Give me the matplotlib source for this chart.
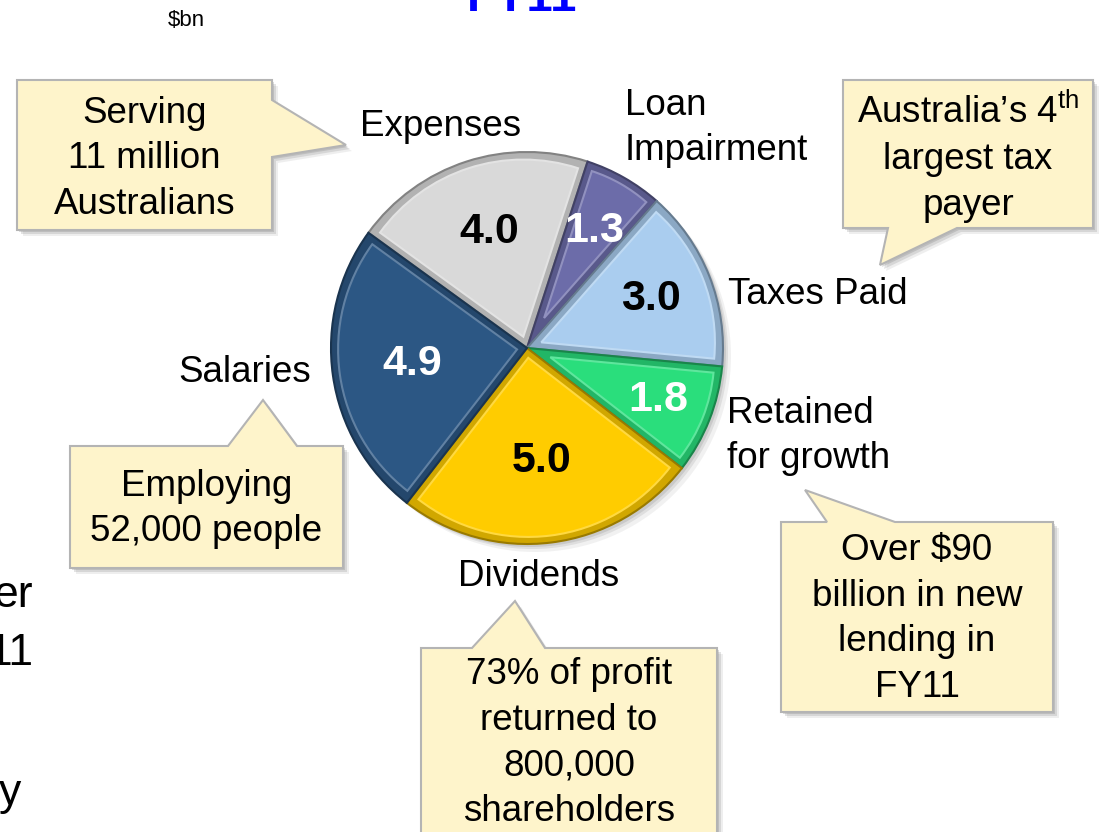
import numpy as np
import matplotlib
matplotlib.use('Agg')
import matplotlib.pyplot as plt
from matplotlib.patches import Polygon, Circle, Wedge
from matplotlib.colors import to_rgb

plt.rcParams['font.family'] = ['Liberation Sans', 'DejaVu Sans']
plt.rcParams['mathtext.fontset'] = 'custom'
plt.rcParams['mathtext.rm'] = 'Liberation Sans'

W, H = 1105, 832

# data, clockwise from the top of the pie ($bn)
categories = ['Expenses', 'Loan\nImpairment', 'Taxes Paid', 'Retained\nfor growth', 'Dividends', 'Salaries']
values = [4.0, 1.3, 3.0, 1.8, 5.0, 4.9]
slice_colors = ['#d9d9d9', '#6c6ca9', '#aacdef', '#2ade7c', '#ffcc00', '#2c5784']
value_colors = ['black', 'white', 'black', 'white', 'black', 'white']

callout_texts = [
    'Serving\n11 million\nAustralians',
    'Australia\u2019s 4$^{\\mathrm{th}}$\nlargest tax\npayer',
    'Employing\n52,000 people',
    '73% of profit\nreturned to\n800,000\nshareholders',
    'Over \\$90\nbillion in new\nlending in\nFY11',
]

# layout (pixels, origin top left)
pie_cx, pie_cy, pie_r = 527, 348, 196
label_pos = [(441, 127, 'center'), (625, 128, 'left'), (728, 295, 'left'),
             (727, 436, 'left'), (539, 576, 'center'), (245, 372, 'center')]
value_dist = [0.62, 0.69, 0.68, 0.72, 0.58, 0.59]
txt_size = 26.5

# box x0, y0, x1, y1, side, base a, base b, tip, text centre y
callout_boxes = [
    (17, 80, 272, 230, 'right', 100, 157, (346, 145), 159),
    (843, 80, 1093, 228, 'bottom', 888, 957, (880, 265), 158),
    (70, 446, 343, 568, 'top', 228, 297, (263, 400), 509),
    (421, 648, 717, 860, 'top', 472, 545, (515, 601), 743),
    (781, 522, 1053, 712, 'top', 827, 895, (805, 490), 619),
]


def Y(py):
    return H - py


def shade(c, f=0.7):
    r, g, b = to_rgb(c)
    if f > 1:
        return tuple(x + (1 - x) * (f - 1) for x in (r, g, b))
    return (r * f, g * f, b * f)


def callout_points(x0, y0, x1, y1, side, a, b, tip):
    pts = [(x0, y0)]
    if side == 'top':
        pts += [(a, y0), tip, (b, y0)]
    pts.append((x1, y0))
    if side == 'right':
        pts += [(x1, a), tip, (x1, b)]
    pts.append((x1, y1))
    if side == 'bottom':
        pts += [(b, y1), tip, (a, y1)]
    pts.append((x0, y1))
    return [(px, Y(py)) for px, py in pts]


fig = plt.figure(figsize=(W / 100, H / 100), dpi=100)
ax = fig.add_axes([0, 0, 1, 1])

# pie shadow
for off, al in [(8, 0.08), (5, 0.12), (3, 0.15)]:
    ax.add_patch(Circle((pie_cx + off, Y(pie_cy) - off), pie_r, color='#555555', alpha=al, lw=0, zorder=1))

wedges, _ = ax.pie(values, colors=[shade(c, 0.82) for c in slice_colors], startangle=144,
                   counterclock=False, radius=pie_r, center=(pie_cx, Y(pie_cy)), frame=True,
                   wedgeprops=dict(linewidth=1.5, zorder=2))
for w, c in zip(wedges, slice_colors):
    w.set_edgecolor(shade(c, 0.6))
    w.set_zorder(2)

# bevel: inset face of each slice
inset = 7
for w, c in zip(wedges, slice_colors):
    half = np.deg2rad(abs(w.theta2 - w.theta1) / 2)
    mid = np.deg2rad((w.theta1 + w.theta2) / 2)
    s = inset / np.sin(half)
    cx = pie_cx + s * np.cos(mid)
    cy = Y(pie_cy) + s * np.sin(mid)
    ax.add_patch(Wedge((cx, cy), pie_r - inset - s, w.theta1, w.theta2,
                       facecolor=c, edgecolor=shade(c, 1.25), lw=1.5, zorder=3))

for w, v, tc, d in zip(wedges, values, value_colors, value_dist):
    mid = np.deg2rad((w.theta1 + w.theta2) / 2)
    ax.text(pie_cx + d * pie_r * np.cos(mid), Y(pie_cy) + d * pie_r * np.sin(mid), '%.1f' % v,
            ha='center', va='center', fontsize=31, fontweight='bold', color=tc, zorder=5)

for name, (lx, ly, ha) in zip(categories, label_pos):
    ax.text(lx, Y(ly), name, ha=ha, va='center', fontsize=txt_size, linespacing=1.4, color='black')

# callouts
for (x0, y0, x1, y1, side, a, b, tip, ty), txt in zip(callout_boxes, callout_texts):
    pts = callout_points(x0, y0, x1, y1, side, a, b, tip)
    for off, al in [(6, 0.12), (4, 0.2), (2, 0.25)]:
        ax.add_patch(Polygon([(px + off, py - off) for px, py in pts], closed=True,
                             facecolor='#777777', edgecolor='none', alpha=al, zorder=6))
    ax.add_patch(Polygon(pts, closed=True, facecolor='#fef4cb', edgecolor='#b4b4b4', lw=1.5, zorder=7))
    ax.text((x0 + x1) / 2, Y(ty), txt, ha='center', va='center', fontsize=txt_size,
            linespacing=1.4, zorder=8)

# other slide text cut by the crop
ax.text(186, Y(21), '\\$bn', ha='center', va='center', fontsize=16)
ax.text(522, Y(11), 'FY11', ha='center', va='baseline', fontsize=34, fontweight='bold', color='#0000ff')
ax.text(33, Y(607), 'er', ha='right', va='baseline', fontsize=32)
ax.text(34, Y(665), '11', ha='right', va='baseline', fontsize=32)
ax.text(21, Y(805), 'y', ha='right', va='baseline', fontsize=32)

ax.set_xlim(0, W)
ax.set_ylim(0, H)
ax.set_aspect('auto')
ax.axis('off')

fig.savefig('out.png', dpi=100)
